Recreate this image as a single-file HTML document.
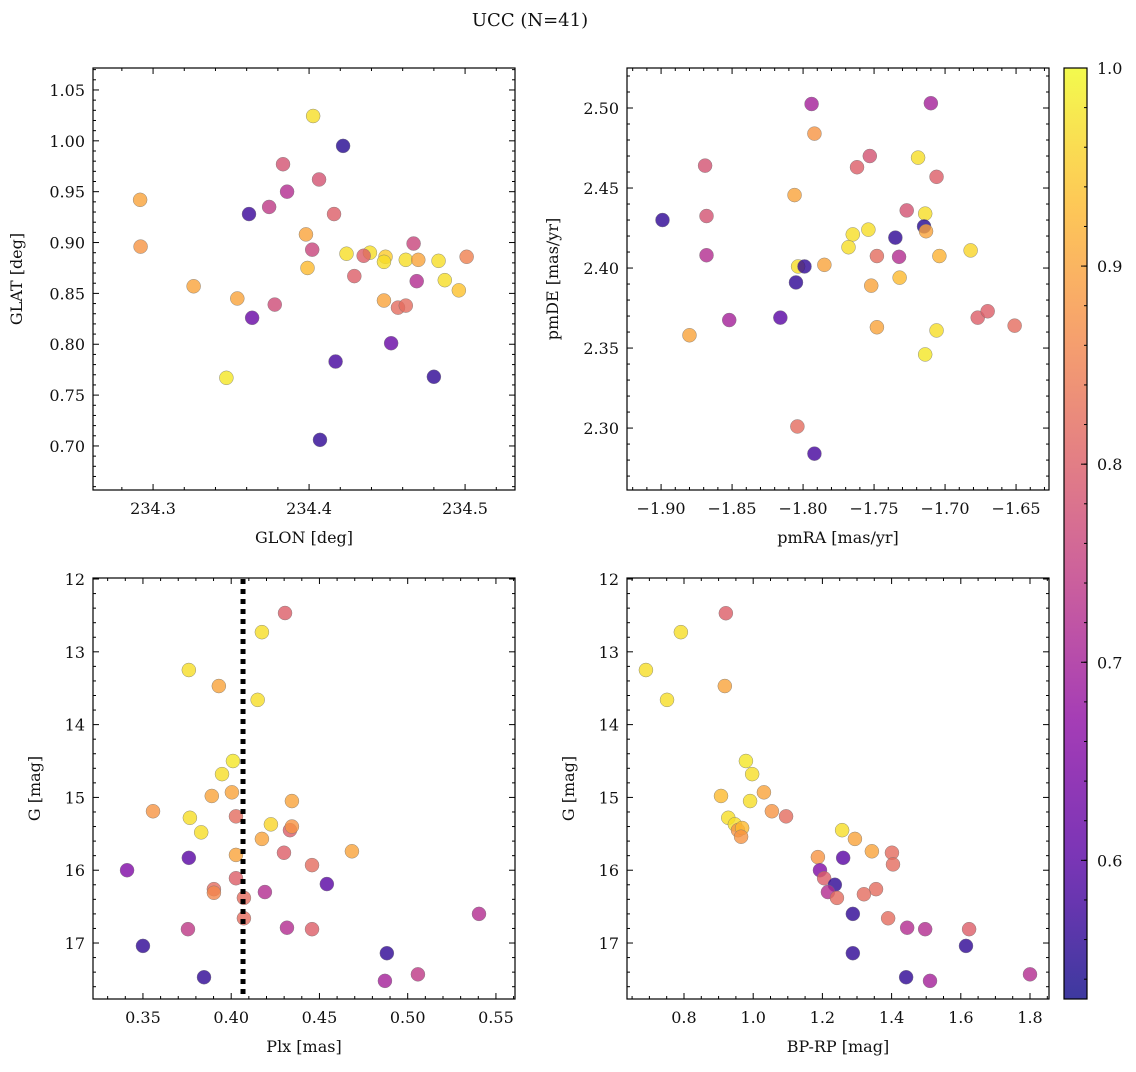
<!DOCTYPE html>
<html><head><meta charset="utf-8">
<style>
html,body{margin:0;padding:0;background:#fff;}
svg text{font-family:"DejaVu Serif","Liberation Serif",serif;fill:#111;}
</style></head>
<body>
<svg id="chart" width="1136" height="1067" viewBox="0 0 1136 1067" xmlns="http://www.w3.org/2000/svg">
<text x="530" y="26" font-size="18" text-anchor="middle">UCC (N=41)</text>
</svg>
<script>
// Panel 1: GLON vs GLAT
const glon = [234.4026,234.4218,234.3833,234.4064,234.3859,234.2917,234.3744,234.3615,234.416,234.398,234.402,234.292,234.467,234.424,234.439,234.435,234.449,234.448,234.462,234.470,234.483,234.501,234.399,234.429,234.487,234.469,234.496,234.326,234.354,234.448,234.378,234.457,234.462,234.3635,234.417,234.4526,234.347,234.480,234.407];
const glat = [1.0244,0.995,0.977,0.962,0.950,0.942,0.935,0.928,0.928,0.908,0.893,0.896,0.899,0.889,0.890,0.887,0.886,0.881,0.883,0.883,0.882,0.886,0.875,0.867,0.863,0.862,0.853,0.857,0.845,0.843,0.839,0.836,0.838,0.826,0.783,0.801,0.767,0.768,0.706];
const prob1 = [0.97,0.55,0.78,0.78,0.72,0.9,0.74,0.57,0.8,0.9,0.76,0.88,0.76,0.97,0.97,0.8,0.95,0.97,0.97,0.9,0.97,0.85,0.93,0.8,0.97,0.72,0.94,0.9,0.9,0.9,0.77,0.82,0.82,0.62,0.58,0.62,0.98,0.56,0.56];
// Panel 2: pmRA vs pmDE
const pmra = [-1.899,-1.869,-1.868,-1.868,-1.880,-1.852,-1.816,-1.806,-1.8035,-1.799,-1.804,-1.805,-1.785,-1.794,-1.792,-1.792,-1.762,-1.753,-1.765,-1.768,-1.754,-1.748,-1.752,-1.748,-1.735,-1.7324,-1.732,-1.727,-1.719,-1.714,-1.7148,-1.7134,-1.710,-1.706,-1.704,-1.706,-1.714,-1.682,-1.677,-1.670,-1.651];
const pmde = [2.430,2.464,2.4325,2.408,2.358,2.3675,2.369,2.4456,2.401,2.401,2.301,2.391,2.402,2.5025,2.484,2.284,2.463,2.470,2.421,2.413,2.424,2.4075,2.389,2.363,2.419,2.407,2.394,2.436,2.469,2.434,2.426,2.423,2.503,2.457,2.4075,2.361,2.346,2.411,2.369,2.373,2.364];
const prob2 = [0.56,0.78,0.78,0.72,0.9,0.7,0.6,0.9,0.97,0.56,0.82,0.56,0.9,0.7,0.88,0.58,0.8,0.78,0.97,0.97,0.97,0.82,0.9,0.9,0.56,0.72,0.93,0.78,0.97,0.97,0.55,0.9,0.7,0.8,0.92,0.97,0.98,0.96,0.8,0.8,0.82];
// Panel 3: Plx vs G
const plx = [0.4305,0.4174,0.376,0.393,0.415,0.401,0.3948,0.389,0.4004,0.4344,0.3557,0.4027,0.3766,0.4225,0.383,0.4333,0.4344,0.4174,0.4684,0.4299,0.4027,0.376,0.4458,0.341,0.4027,0.4542,0.3902,0.3902,0.4191,0.4072,0.4072,0.5404,0.3755,0.4316,0.4458,0.35,0.4882,0.5058,0.3846,0.4871];
const gmag3 = [12.467,12.73,13.25,13.47,13.66,14.50,14.68,14.98,14.93,15.05,15.19,15.26,15.28,15.37,15.48,15.45,15.40,15.57,15.74,15.76,15.79,15.83,15.93,16.00,16.11,16.19,16.26,16.31,16.30,16.38,16.66,16.60,16.81,16.79,16.81,17.04,17.14,17.43,17.47,17.52];
const prob3 = [0.8,0.97,0.97,0.9,0.97,0.98,0.97,0.9,0.9,0.9,0.88,0.82,0.97,0.96,0.97,0.8,0.88,0.9,0.9,0.8,0.9,0.6,0.82,0.65,0.8,0.6,0.82,0.86,0.72,0.82,0.82,0.72,0.74,0.72,0.8,0.56,0.56,0.74,0.56,0.7];
// Panel 4: BP-RP vs G
const bprp = [0.921,0.791,0.690,0.918,0.751,0.979,0.997,0.907,1.031,0.991,1.054,1.095,0.928,0.947,0.956,0.968,0.965,1.257,1.294,1.343,1.401,1.187,1.26,1.404,1.193,1.205,1.355,1.320,1.236,1.216,1.242,1.390,1.288,1.445,1.497,1.624,1.615,1.288,1.80,1.442,1.511];
const gmag4 = [12.47,12.73,13.25,13.47,13.66,14.50,14.68,14.98,14.93,15.05,15.19,15.26,15.28,15.37,15.45,15.42,15.54,15.45,15.57,15.74,15.76,15.82,15.83,15.92,16.00,16.11,16.26,16.33,16.20,16.30,16.38,16.66,16.60,16.79,16.81,16.81,17.04,17.14,17.43,17.47,17.52];
const prob4 = [0.8,0.97,0.97,0.9,0.97,0.98,0.97,0.93,0.9,0.97,0.88,0.82,0.97,0.97,0.88,0.93,0.88,0.97,0.9,0.9,0.82,0.88,0.6,0.82,0.65,0.8,0.82,0.82,0.56,0.72,0.82,0.82,0.56,0.72,0.72,0.8,0.56,0.56,0.72,0.56,0.7];
const plxMedian = 0.4067;
const cbTicks = [0.6,0.7,0.8,0.9,1.0];

const NS = "http://www.w3.org/2000/svg";
const svg = document.getElementById('chart');
function el(tag, attrs, parent){const e=document.createElementNS(NS,tag);for(const k in attrs)e.setAttribute(k,attrs[k]);(parent||svg).appendChild(e);return e;}

const stops2=[[0,[13,8,135]],[0.14,[84,2,163]],[0.29,[139,10,165]],[0.43,[185,50,137]],[0.57,[219,92,104]],[0.71,[244,136,73]],[0.86,[254,188,43]],[1,[240,249,33]]];
function plasma(t){t=Math.max(0,Math.min(1,t));for(let i=0;i<stops2.length-1;i++){const a=stops2[i],b=stops2[i+1];if(t<=b[0]){const f=(t-a[0])/(b[0]-a[0]);return 'rgb('+a[1].map((v,j)=>Math.round(v+(b[1][j]-v)*f)).join(',')+')';}}return 'rgb(240,249,33)';}
const cmin=0.53,cmax=1.0;
function cmap(v){return plasma((v-cmin)/(cmax-cmin));}

function fmt(v,d){return (v<0?'\u2212':'')+Math.abs(v).toFixed(d);}

function panel(name,box,xr,yr,xMaj,xMin,yMaj,yMin,xd,yd,xlabel,ylabel,ylabX,xs,ys,cs,invertY){
  const g=el('g',{});
  
  
  const [L,T,R,B]=box;
  const sx=v=>L+(v-xr[0])/(xr[1]-xr[0])*(R-L);
  const sy=invertY? (v=>T+(v-yr[0])/(yr[1]-yr[0])*(B-T)) : (v=>B-(v-yr[0])/(yr[1]-yr[0])*(B-T));
  const eps=1e-9;
  const tk=el('g',{stroke:'#000','stroke-width':1},g);
  for(let v=Math.ceil(xr[0]/xMin-eps)*xMin; v<=xr[1]+eps; v+=xMin){
    const x=sx(v); const major=Math.abs(Math.round(v/xMaj)*xMaj-v)<xMin*0.1; const len=major?6:3;
    el('line',{x1:x,y1:B,x2:x,y2:B-len},tk); el('line',{x1:x,y1:T,x2:x,y2:T+len},tk);
    if(major){const t=el('text',{x:x,y:B+24,'font-size':16,'text-anchor':'middle'},g);t.textContent=fmt(v,xd);
      
      }
  }
  for(let v=Math.ceil(yr[0]/yMin-eps)*yMin; v<=yr[1]+eps; v+=yMin){
    const y=sy(v); const major=Math.abs(Math.round(v/yMaj)*yMaj-v)<yMin*0.1; const len=major?6:3;
    el('line',{x1:L,y1:y,x2:L+len,y2:y},tk); el('line',{x1:R,y1:y,x2:R-len,y2:y},tk);
    if(major){const t=el('text',{x:L-8,y:y+6,'font-size':16,'text-anchor':'end'},g);t.textContent=fmt(v,yd);
      
      }
  }
  const xl=el('text',{x:(L+R)/2,y:B+53,'font-size':16,'text-anchor':'middle'},g);xl.textContent=xlabel;
  
  
  const yl=el('text',{x:ylabX,y:(T+B)/2,'font-size':16,'text-anchor':'middle',transform:`rotate(-90 ${ylabX} ${(T+B)/2})`},g);yl.textContent=ylabel;
  
  
  const pts=el('g',{},g);
  
  
  for(let i=0;i<xs.length;i++){
    const c=el('circle',{cx:sx(xs[i]),cy:sy(ys[i]),r:7,fill:cmap(cs[i]),'fill-opacity':0.8,stroke:'#777','stroke-width':0.5,'stroke-opacity':0.8},pts);
    
    
  }
  const fr=el('rect',{x:L,y:T,width:R-L,height:B-T,fill:'none',stroke:'#000','stroke-width':1.2},g);
  
  
  return {sx,sy,g};
}

panel('panel-glon-glat',[93,68,515,490],[234.2615,234.532],[0.6567,1.0716],0.1,0.02,0.05,0.01,1,2,'GLON [deg]','GLAT [deg]',22,glon,glat,prob1,false);
panel('panel-pm',[627,68,1049,490],[-1.924,-1.6268],[2.2613,2.525],0.05,0.01,0.05,0.01,2,2,'pmRA [mas/yr]','pmDE [mas/yr]',558,pmra,pmde,prob2,false);
const p3=panel('panel-plx-g',[93,578,515,999],[0.3217,0.5608],[11.986,17.769],0.05,0.01,1,0.2,2,0,'Plx [mas]','G [mag]',40,plx,gmag3,prob3,true);
panel('panel-cmd',[627,578,1049,999],[0.6353,1.8549],[11.986,17.769],0.2,0.05,1,0.2,1,0,'BP-RP [mag]','G [mag]',574,bprp,gmag4,prob4,true);

const ml=el('line',{x1:p3.sx(plxMedian),x2:p3.sx(plxMedian),y1:579,y2:998,stroke:'#000','stroke-width':5,'stroke-dasharray':'5,5'});



const cb=el('g',{});


const defs=el('defs',{},cb);
const lg=el('linearGradient',{id:'cbg',x1:0,y1:1,x2:0,y2:0},defs);
for(let i=0;i<=20;i++){const v=cmin+(cmax-cmin)*i/20;el('stop',{offset:i/20,'stop-color':cmap(v),'stop-opacity':0.8},lg);}
const cL=1064,cR=1087,cT=68,cB=999;
el('rect',{x:cL,y:cT,width:cR-cL,height:cB-cT,fill:'url(#cbg)',stroke:'#000','stroke-width':1.2},cb);
const cy=v=>cB-(v-cmin)/(cmax-cmin)*(cB-cT);
for(let v=0.54;v<=1.0001;v+=0.02){const y=cy(v);el('line',{x1:cR,y1:y,x2:cR-3,y2:y,stroke:'#000'},cb);}
for(const v of cbTicks){const y=cy(v);el('line',{x1:cR,y1:y,x2:cR-6,y2:y,stroke:'#000'},cb);
  const t=el('text',{x:cR+10,y:y+6,'font-size':16},cb);t.textContent=v.toFixed(1);
  
  }
</script>
</body></html>
